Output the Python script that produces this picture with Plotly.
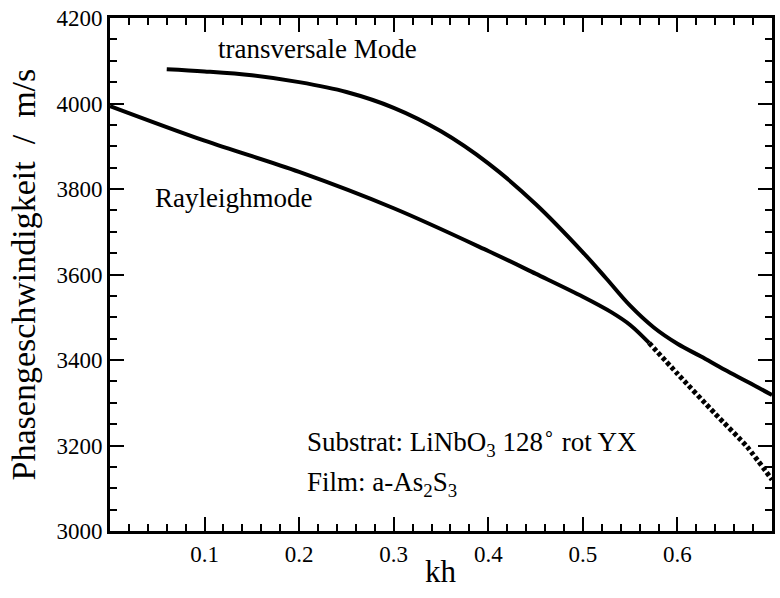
import plotly.graph_objects as go

# Transversal mode (upper curve)
trans_kh = [0.06, 0.1, 0.15, 0.2, 0.25, 0.3, 0.35, 0.4, 0.45, 0.5, 0.525, 0.55, 0.575, 0.6, 0.625, 0.65, 0.675, 0.7]
trans_v = [4080, 4075, 4066, 4050, 4027, 3990, 3935, 3860, 3765, 3652, 3590, 3527, 3476, 3438, 3408, 3377, 3348, 3318]

# Rayleigh mode (lower curve, solid part)
rayl_kh = [0.0, 0.1, 0.2, 0.3, 0.4, 0.45, 0.5, 0.53, 0.55, 0.57]
rayl_v = [3994, 3913, 3840, 3755, 3655, 3602, 3548, 3512, 3482, 3440]

# Rayleigh mode continuation (dotted part)
rayl2_kh = [0.57, 0.6, 0.64, 0.674, 0.7]
rayl2_v = [3440, 3368, 3274, 3196, 3120]

x_ticks = [0.1, 0.2, 0.3, 0.4, 0.5, 0.6, 0.7]
x_labels = ["0.1", "0.2", "0.3", "0.4", "0.5", "0.6", "0.7"]
y_ticks = [3000, 3200, 3400, 3600, 3800, 4000, 4200]

FONT = "Liberation Serif"

fig = go.Figure()
fig.add_trace(go.Scatter(x=trans_kh, y=trans_v, mode="lines",
                         line=dict(color="black", width=4, shape="spline", smoothing=1.0),
                         showlegend=False))
fig.add_trace(go.Scatter(x=rayl_kh, y=rayl_v, mode="lines",
                         line=dict(color="black", width=4, shape="spline", smoothing=1.0),
                         showlegend=False))
fig.add_trace(go.Scatter(x=rayl2_kh, y=rayl2_v, mode="lines",
                         line=dict(color="black", width=5, shape="spline", smoothing=0.6,
                                   dash="4px,2.5px"),
                         showlegend=False))

axis_common = dict(showline=True, linecolor="black", linewidth=3, mirror="ticks",
                   ticks="inside", tickcolor="black", showgrid=False, zeroline=False,
                   tickfont=dict(family=FONT, size=23, color="black"))

fig.update_xaxes(range=[0, 0.7], tickvals=x_ticks, ticktext=x_labels,
                 ticklen=14, tickwidth=1.5,
                 minor=dict(dtick=0.02, tick0=0, ticks="inside", ticklen=7,
                            tickwidth=1.5, tickcolor="black", showgrid=False),
                 **axis_common)
fig.update_yaxes(range=[3000, 4200], tickvals=y_ticks,
                 ticklen=14, tickwidth=1.5,
                 minor=dict(dtick=50, tick0=3000, ticks="inside", ticklen=7,
                            tickwidth=1.5, tickcolor="black", showgrid=False),
                 **axis_common)

fig.add_annotation(x=0.5, y=-0.078, xref="paper", yref="paper", text="kh",
                   showarrow=False, xanchor="center", yanchor="middle",
                   font=dict(family=FONT, size=31, color="black"))
fig.add_annotation(x=-0.13, y=0.5, xref="paper", yref="paper",
                   text="Phasengeschwindigkeit  /  m/s", textangle=-90,
                   showarrow=False, xanchor="center", yanchor="middle",
                   font=dict(family=FONT, size=34, color="black"))

ann_font = dict(family=FONT, size=27, color="black")
fig.add_annotation(x=0.313, y=0.940, xref="paper", yref="paper", text="transversale Mode",
                   showarrow=False, xanchor="center", yanchor="middle", font=ann_font)
fig.add_annotation(x=0.0647, y=0.650, xref="paper", yref="paper", text="Rayleighmode",
                   showarrow=False, xanchor="left", yanchor="middle", font=ann_font)
fig.add_annotation(x=0.295, y=0.173, xref="paper", yref="paper",
                   text="Substrat: LiNbO<sub>3</sub> 128<sup>∘</sup> rot YX",
                   showarrow=False, xanchor="left", yanchor="middle", font=ann_font)
fig.add_annotation(x=0.295, y=0.091, xref="paper", yref="paper",
                   text="Film: a-As<sub>2</sub>S<sub>3</sub>",
                   showarrow=False, xanchor="left", yanchor="middle", font=ann_font)

fig.update_layout(width=780, height=598, margin=dict(l=110, r=5, t=18, b=67),
                  paper_bgcolor="white", plot_bgcolor="white",
                  font=dict(family=FONT, color="black"))

fig.write_html("out.html")
